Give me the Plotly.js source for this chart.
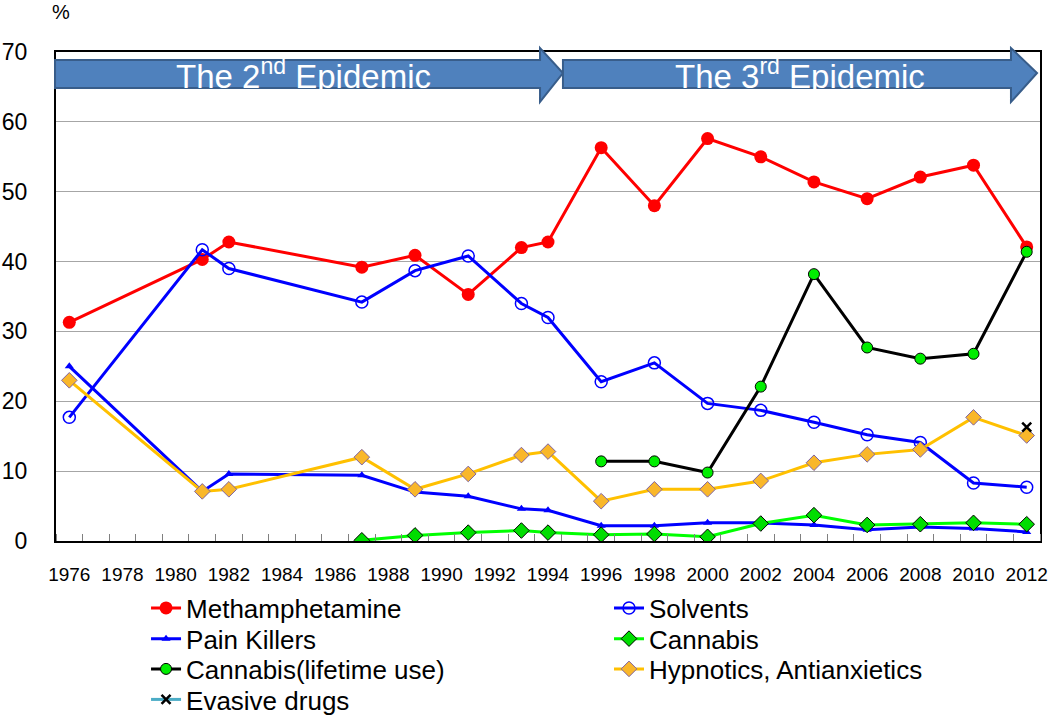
<!DOCTYPE html>
<html>
<head>
<meta charset="utf-8">
<script src="https://cdn.plot.ly/plotly-3.0.1.min.js"></script>
<style>html,body{margin:0;padding:0;background:#fff;}#chart{width:1050px;height:718px;}</style>
</head>
<body>
<div id="chart"></div>
<script>
// ---- data ----
const yearsFull = [1976, 1981, 1982, 1987, 1989, 1991, 1993, 1994, 1996, 1998, 2000, 2002, 2004, 2006, 2008, 2010, 2012];
const methamphetamine = [31.3, 40.3, 42.8, 39.2, 40.9, 35.3, 42.0, 42.8, 56.3, 48.0, 57.6, 55.0, 51.4, 49.0, 52.1, 53.8, 42.1];
const solvents = [17.7, 41.7, 39.0, 34.2, 38.7, 40.8, 34.0, 32.0, 22.8, 25.5, 19.7, 18.7, 17.0, 15.2, 14.1, 8.3, 7.7];
const painKillers = [25.0, 7.1, 9.6, 9.4, 7.0, 6.4, 4.6, 4.4, 2.2, 2.2, 2.6, 2.6, 2.3, 1.6, 2.0, 1.8, 1.3];
const hypnotics = [23.0, 7.1, 7.4, 12.0, 7.4, 9.6, 12.3, 12.8, 5.7, 7.4, 7.4, 8.6, 11.2, 12.4, 13.1, 17.7, 15.1];
const cannabisYears = [1987, 1989, 1991, 1993, 1994, 1996, 1998, 2000, 2002, 2004, 2006, 2008, 2010, 2012];
const cannabis = [0.1, 0.8, 1.2, 1.5, 1.2, 0.9, 1.0, 0.6, 2.5, 3.7, 2.3, 2.4, 2.6, 2.4];
const lifetimeYears = [1996, 1998, 2000, 2002, 2004, 2006, 2008, 2010, 2012];
const cannabisLifetime = [11.4, 11.4, 9.8, 22.1, 38.2, 27.7, 26.1, 26.8, 41.4];
const evasiveYears = [2012];
const evasiveDrugs = [16.3];
const seriesNames = ["Methamphetamine", "Solvents", "Pain Killers", "Cannabis", "Cannabis(lifetime use)", "Hypnotics, Antianxietics", "Evasive drugs"];
const epochLabels = ["The 2<sup>nd</sup> Epidemic", "The 3<sup>rd</sup> Epidemic"];

const FONT = '"Liberation Sans", Arial, sans-serif';

const traces = [
  {x: yearsFull, y: methamphetamine, name: seriesNames[0], mode: 'lines+markers', legend: 'legend',
   line: {color: '#FF0000', width: 3}, marker: {symbol: 'circle', size: 13, color: '#FF0000'}},
  {x: yearsFull, y: solvents, name: seriesNames[1], mode: 'lines+markers', legend: 'legend2',
   line: {color: '#0000FF', width: 3}, marker: {symbol: 'circle-open', size: 12, color: '#0000FF', line: {color: '#0000FF', width: 1.5}}},
  {x: yearsFull, y: painKillers, name: seriesNames[2], mode: 'lines+markers', legend: 'legend3',
   line: {color: '#0000FF', width: 3}, marker: {symbol: 'triangle-up', size: 8, color: '#0000FF'}},
  {x: cannabisYears, y: cannabis, name: seriesNames[3], mode: 'lines+markers', legend: 'legend4',
   line: {color: '#00FF00', width: 3}, marker: {symbol: 'diamond', size: 12, color: '#00DD00', line: {color: '#000000', width: 1}}},
  {x: lifetimeYears, y: cannabisLifetime, name: seriesNames[4], mode: 'lines+markers', legend: 'legend5',
   line: {color: '#000000', width: 3}, marker: {symbol: 'circle', size: 11, color: '#00EE00', line: {color: '#000000', width: 1}}},
  {x: yearsFull, y: hypnotics, name: seriesNames[5], mode: 'lines+markers', legend: 'legend6',
   line: {color: '#FFC000', width: 3}, marker: {symbol: 'diamond', size: 12, color: '#F9B72A', line: {color: '#8064A2', width: 1}}},
  {x: evasiveYears, y: evasiveDrugs, name: seriesNames[6], mode: 'lines+markers', legend: 'legend7',
   line: {color: '#4BACC6', width: 3}, marker: {symbol: 'x-thin', size: 9, color: '#000000', line: {color: '#000000', width: 2.5}}}
];

// arrow banner shapes in paper coordinates
function arrowPath(x0, xh, xt, yb, yt, yhb, yht, ym) {
  return `M${x0},${yb} L${xh},${yb} L${xh},${yhb} L${xt},${ym} L${xh},${yht} L${xh},${yt} L${x0},${yt} Z`;
}
const shapes = [
  {type: 'path', xref: 'paper', yref: 'paper', path: arrowPath(-0.001, 0.4919, 0.5152, 0.9264, 0.9836, 0.8978, 1.0082, 0.957),
   fillcolor: '#4F81BD', line: {color: '#385D8A', width: 2}, layer: 'above'},
  {type: 'path', xref: 'paper', yref: 'paper', path: arrowPath(0.5152, 0.9705, 0.9970, 0.9264, 0.9836, 0.8978, 1.0082, 0.957),
   fillcolor: '#4F81BD', line: {color: '#385D8A', width: 2}, layer: 'above'}
];

// legend layout: two columns, four rows (positions only)
const legCol = [0.0915, 0.562];
const legRow = [-0.0890, -0.1518, -0.2137, -0.2761];
function legendBox(col, row) {
  return {x: legCol[col], xanchor: 'left', y: legRow[row], yanchor: 'top',
          font: {size: 26, family: FONT, color: '#000000'}, itemwidth: 30,
          bgcolor: 'rgba(0,0,0,0)', borderwidth: 0};
}

const layout = {
  width: 1050, height: 718,
  margin: {l: 56, r: 10, t: 52, b: 177, autoexpand: false},
  paper_bgcolor: '#FFFFFF', plot_bgcolor: '#FFFFFF',
  showlegend: true,
  font: {family: FONT, color: '#000000'},
  xaxis: {
    range: [1975.5, 2012.5], tickmode: 'linear', tick0: 1976, dtick: 2, ticks: '',
    showgrid: false, zeroline: false, showline: true, linecolor: '#000000', linewidth: 2, mirror: true,
    tickfont: {size: 19, family: FONT, color: '#000000'}, ticklabelstandoff: 15,
    minor: {tickmode: 'linear', tick0: 1975.5, dtick: 1, ticks: 'inside', ticklen: 7, tickcolor: '#808080', tickwidth: 1, showgrid: false}
  },
  yaxis: {
    range: [0, 70], tickmode: 'linear', tick0: 0, dtick: 10, ticks: '',
    showgrid: true, gridcolor: '#A6A6A6', gridwidth: 1, zeroline: false,
    showline: true, linecolor: '#000000', linewidth: 2, mirror: true,
    tickfont: {size: 23, family: FONT, color: '#000000'}, ticklabelstandoff: 22
  },
  legend: legendBox(0, 0),
  legend2: legendBox(1, 0),
  legend3: legendBox(0, 1),
  legend4: legendBox(1, 1),
  legend5: legendBox(0, 2),
  legend6: legendBox(1, 2),
  legend7: legendBox(0, 3),
  shapes: shapes,
  annotations: [
    {xref: 'paper', yref: 'paper', x: 0.252, y: 0.955, text: epochLabels[0], showarrow: false,
     font: {size: 33, family: FONT, color: '#FFFFFF'}, xanchor: 'center', yanchor: 'middle'},
    {xref: 'paper', yref: 'paper', x: 0.756, y: 0.955, text: epochLabels[1], showarrow: false,
     font: {size: 33, family: FONT, color: '#FFFFFF'}, xanchor: 'center', yanchor: 'middle'},
    {xref: 'paper', yref: 'paper', x: 0.005, y: 1.082, text: '%', showarrow: false,
     font: {size: 20, family: FONT, color: '#000000'}, xanchor: 'center', yanchor: 'middle'}
  ]
};

Plotly.newPlot('chart', traces, layout, {displayModeBar: false, staticPlot: true});
</script>
</body>
</html>
